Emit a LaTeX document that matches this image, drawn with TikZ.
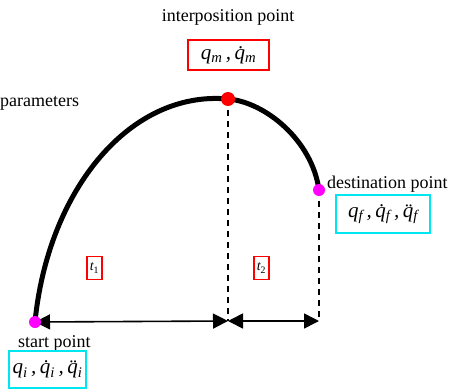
\documentclass[tikz,border=0pt]{standalone}
\usepackage{fontspec}
\setmainfont{Liberation Serif}
\usetikzlibrary{arrows.meta}
\definecolor{cyanbox}{RGB}{0,230,240}
\definecolor{magdot}{RGB}{255,0,255}
\begin{document}
\begin{tikzpicture}[x=1pt,y=-1pt,
  lbl/.style={inner sep=0pt,font=\fontsize{18}{20}\selectfont},
  redbox/.style={draw=red,line width=1.6pt,inner sep=0pt,font=\fontsize{21}{23}\selectfont\itshape},
  cyanbx/.style={draw=cyanbox,line width=1.6pt,inner sep=0pt,font=\fontsize{21}{23}\selectfont\itshape},
  tbox/.style={draw=red,line width=1.3pt,inner sep=0pt,minimum width=15pt,minimum height=23pt,font=\fontsize{14}{15}\selectfont\itshape},
  dim/.style={line width=1.6pt,{Triangle[length=15pt,width=15pt]}-{Triangle[length=15pt,width=15pt]}},
  dsh/.style={line width=1.5pt,dash pattern=on 6pt off 5pt},
  curve/.style={line width=5pt}]
\useasboundingbox (0,0) rectangle (458,389);
% key points
\coordinate (S) at (35,322);
\coordinate (M) at (228,99);
\coordinate (F) at (319,190);
\coordinate (MB) at (228,321);
\coordinate (FB) at (319,321);
% curve
\draw[curve] (S) .. controls (48,190) and (130,90) .. (M);
\draw[curve] (M) .. controls (265,102) and (312,140) .. (F);
% dashed verticals
\draw[dsh] (M) -- (MB);
\draw[dsh] (F) -- (FB);
% dimension arrows
\draw[dim] (S) -- (MB);
\draw[dim] (MB) -- (FB);
% dots
\fill[magdot] (S) circle (6);
\fill[red] (M) circle (7);
\fill[magdot] (F) circle (6);
% labels
\node[lbl] (interp) at (228,17) {interposition point};
\node[lbl,anchor=west] (param) at (0,103) {parameters};
\node[lbl,anchor=west] (dest) at (327,184) {destination point};
\node[lbl,anchor=west] (start) at (18,343) {start point};
\node[redbox,minimum width=81pt,minimum height=30pt] (qm) at (228.5,55) {q\textsubscript{m}\,,\,\.q\textsubscript{m}};
\node[cyanbx,minimum width=94pt,minimum height=38pt] (qf) at (383,214) {q\textsubscript{f}\,,\,\.q\textsubscript{f}\,,\,\"q\textsubscript{f}};
\node[cyanbx,minimum width=77pt,minimum height=37pt] (qi) at (47.5,369.5) {q\textsubscript{i}\,,\,\.q\textsubscript{i}\,,\,\"q\textsubscript{i}};
\node[tbox] (t1) at (94.5,268) {t\textsubscript{\upshape 1}};
\node[tbox] (t2) at (261.5,268) {t\textsubscript{\upshape 2}};
\end{tikzpicture}
\end{document}
